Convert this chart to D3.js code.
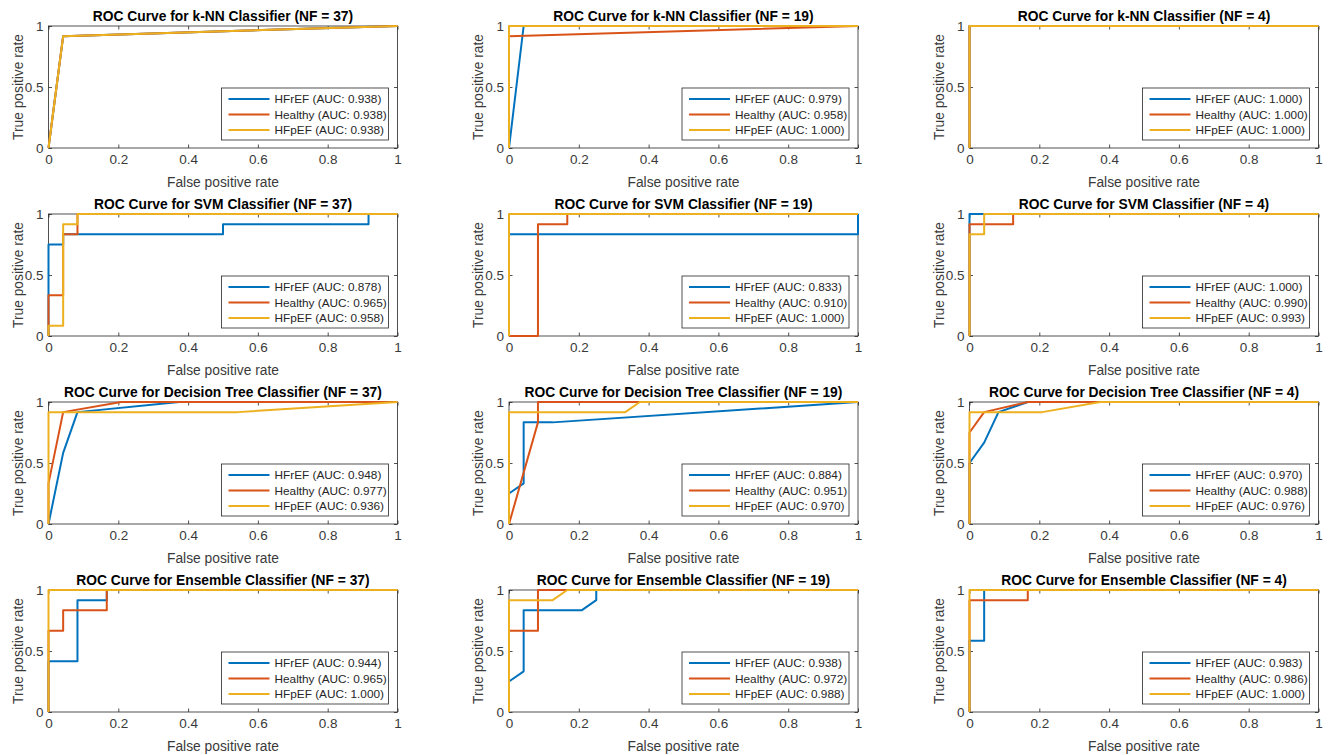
<!DOCTYPE html>
<html>
<head>
<meta charset="utf-8">
<script src="https://cdn.jsdelivr.net/npm/d3@7"></script>
<style>
  body { margin: 0; background: #fff; }
  svg { display: block; font-family: Arial, "Liberation Sans", Helvetica, sans-serif; }
  .tick text { fill: #3a3a3a; font-size: 13.5px; }
  .tick line { stroke: #262626; stroke-width: 0.8; }
</style>
</head>
<body>
<div id="chart"></div>
<script>
const classNames = ['HFrEF', 'Healthy', 'HFpEF'];
const classColors = ['#0072BD', '#D95319', '#EDB120'];
const classifierNames = ['k-NN', 'SVM', 'Decision Tree', 'Ensemble'];
const featureCounts = [37, 19, 4];
const xTicks = [0, 0.2, 0.4, 0.6, 0.8, 1];
const yTicks = [0, 0.5, 1];

// AUC per panel, order HFrEF, Healthy, HFpEF
const aucKnn = [[0.938, 0.938, 0.938], [0.979, 0.958, 1.000], [1.000, 1.000, 1.000]];
const aucSvm = [[0.878, 0.965, 0.958], [0.833, 0.910, 1.000], [1.000, 0.990, 0.993]];
const aucTree = [[0.948, 0.977, 0.936], [0.884, 0.951, 0.970], [0.970, 0.988, 0.976]];
const aucEnsemble = [[0.944, 0.965, 1.000], [0.938, 0.972, 0.988], [0.983, 0.986, 1.000]];

// ROC points [fpr, tpr], one list per class
const rocKnn37 = [
  [[0, 0], [0.042, 0.917], [1, 1]],
  [[0, 0], [0.042, 0.917], [1, 1]],
  [[0, 0], [0.042, 0.917], [1, 1]],
];
const rocKnn19 = [
  [[0, 0], [0.042, 1], [1, 1]],
  [[0, 0], [0, 0.917], [1, 1]],
  [[0, 0], [0, 1], [1, 1]],
];
const rocKnn4 = [
  [[0, 0], [0, 1], [1, 1]],
  [[0, 0], [0, 1], [1, 1]],
  [[0, 0], [0, 1], [1, 1]],
];
const rocSvm37 = [
  [[0, 0], [0, 0.75], [0.042, 0.75], [0.042, 0.833], [0.5, 0.833], [0.5, 0.917], [0.917, 0.917], [0.917, 1], [1, 1]],
  [[0, 0], [0, 0.333], [0.042, 0.333], [0.042, 0.833], [0.083, 0.833], [0.083, 1], [1, 1]],
  [[0, 0], [0, 0.083], [0.042, 0.083], [0.042, 0.917], [0.083, 0.917], [0.083, 1], [1, 1]],
];
const rocSvm19 = [
  [[0, 0], [0, 0.833], [1, 0.833], [1, 1]],
  [[0, 0], [0.083, 0], [0.083, 0.917], [0.167, 0.917], [0.167, 1], [1, 1]],
  [[0, 0], [0, 1], [1, 1]],
];
const rocSvm4 = [
  [[0, 0], [0, 1], [1, 1]],
  [[0, 0], [0, 0.917], [0.125, 0.917], [0.125, 1], [1, 1]],
  [[0, 0], [0, 0.833], [0.042, 0.833], [0.042, 1], [1, 1]],
];
const rocTree37 = [
  [[0, 0], [0.042, 0.583], [0.083, 0.917], [0.375, 1], [1, 1]],
  [[0, 0], [0, 0.333], [0.042, 0.917], [0.208, 1], [1, 1]],
  [[0, 0], [0, 0.917], [0.542, 0.917], [1, 1]],
];
const rocTree19 = [
  [[0, 0], [0, 0.25], [0.042, 0.333], [0.042, 0.833], [0.125, 0.833], [1, 1]],
  [[0, 0], [0.083, 0.833], [0.083, 1], [1, 1]],
  [[0, 0], [0, 0.917], [0.333, 0.917], [0.375, 1], [1, 1]],
];
const rocTree4 = [
  [[0, 0], [0, 0.5], [0.042, 0.667], [0.083, 0.917], [0.167, 1], [1, 1]],
  [[0, 0], [0, 0.75], [0.042, 0.917], [0.167, 1], [1, 1]],
  [[0, 0], [0, 0.917], [0.208, 0.917], [0.375, 1], [1, 1]],
];
const rocEnsemble37 = [
  [[0, 0], [0, 0.417], [0.083, 0.417], [0.083, 0.917], [0.167, 0.917], [0.167, 1], [1, 1]],
  [[0, 0], [0, 0.667], [0.042, 0.667], [0.042, 0.833], [0.167, 0.833], [0.167, 1], [1, 1]],
  [[0, 0], [0, 1], [1, 1]],
];
const rocEnsemble19 = [
  [[0, 0], [0, 0.25], [0.042, 0.333], [0.042, 0.833], [0.208, 0.833], [0.25, 0.917], [0.25, 1], [1, 1]],
  [[0, 0], [0, 0.667], [0.083, 0.667], [0.083, 1], [1, 1]],
  [[0, 0], [0, 0.917], [0.125, 0.917], [0.167, 1], [1, 1]],
];
const rocEnsemble4 = [
  [[0, 0], [0, 0.583], [0.042, 0.583], [0.042, 1], [1, 1]],
  [[0, 0], [0, 0.917], [0.167, 0.917], [0.167, 1], [1, 1]],
  [[0, 0], [0, 1], [1, 1]],
];

const rocGrid = [
  [rocKnn37, rocKnn19, rocKnn4],
  [rocSvm37, rocSvm19, rocSvm4],
  [rocTree37, rocTree19, rocTree4],
  [rocEnsemble37, rocEnsemble19, rocEnsemble4],
];
const aucGrid = [aucKnn, aucSvm, aucTree, aucEnsemble];

const width = 1333;
const height = 755;
const plotW = 349;
const plotH = 122;
const colLeft = [48.5, 509, 969.5];
const rowTop = [26, 214, 402, 590];

const svg = d3.select('#chart')
  .append('svg')
  .attr('width', width)
  .attr('height', height);

rocGrid.forEach((row, r) => {
  row.forEach((curves, c) => {
    const g = svg.append('g')
      .attr('transform', `translate(${colLeft[c]},${rowTop[r]})`);

    const x = d3.scaleLinear().domain([0, 1]).range([0, plotW]);
    const y = d3.scaleLinear().domain([0, 1]).range([plotH, 0]);

    // box
    g.append('rect')
      .attr('width', plotW)
      .attr('height', plotH)
      .attr('fill', 'none')
      .attr('stroke', '#262626')
      .attr('stroke-width', 0.8);

    // axes with inward ticks
    const xAxis = g.append('g')
      .attr('transform', `translate(0,${plotH})`)
      .call(d3.axisBottom(x).tickValues(xTicks).tickFormat(d3.format('~g'))
        .tickSizeInner(-3.5).tickSizeOuter(0).tickPadding(6));
    const yAxis = g.append('g')
      .call(d3.axisLeft(y).tickValues(yTicks).tickFormat(d3.format('~g'))
        .tickSizeInner(-3.5).tickSizeOuter(0).tickPadding(5));
    const xTop = g.append('g')
      .call(d3.axisTop(x).tickValues(xTicks).tickFormat('').tickSizeInner(-3.5).tickSizeOuter(0));
    const yRight = g.append('g')
      .attr('transform', `translate(${plotW},0)`)
      .call(d3.axisRight(y).tickValues(yTicks).tickFormat('').tickSizeInner(-3.5).tickSizeOuter(0));
    [xAxis, yAxis, xTop, yRight].forEach((a) => a.select('.domain').remove());

    // curves
    const line = d3.line().x((d) => x(d[0])).y((d) => y(d[1]));
    curves.forEach((pts, i) => {
      g.append('path')
        .datum(pts)
        .attr('d', line)
        .attr('fill', 'none')
        .attr('stroke', classColors[i])
        .attr('stroke-width', 2)
        .attr('stroke-linejoin', 'round');
    });

    // title
    g.append('text')
      .attr('x', plotW / 2)
      .attr('y', -5)
      .attr('text-anchor', 'middle')
      .attr('font-size', '13.8px')
      .attr('font-weight', 'bold')
      .attr('fill', '#000')
      .text(`ROC Curve for ${classifierNames[r]} Classifier (NF = ${featureCounts[c]})`);

    // axis labels
    g.append('text')
      .attr('x', plotW / 2)
      .attr('y', plotH + 39)
      .attr('text-anchor', 'middle')
      .attr('font-size', '13.8px')
      .attr('fill', '#3a3a3a')
      .text('False positive rate');

    g.append('text')
      .attr('transform', `translate(-26,${plotH / 2}) rotate(-90)`)
      .attr('text-anchor', 'middle')
      .attr('font-size', '13.8px')
      .attr('fill', '#3a3a3a')
      .text('True positive rate');

    // legend
    const legW = 167;
    const legH = 52;
    const leg = g.append('g')
      .attr('transform', `translate(${plotW - 9 - legW},${plotH - 8 - legH})`);
    leg.append('rect')
      .attr('width', legW)
      .attr('height', legH)
      .attr('fill', '#fff')
      .attr('stroke', '#262626')
      .attr('stroke-width', 0.8);
    classNames.forEach((name, i) => {
      const ly = 11 + i * 15.5;
      leg.append('line')
        .attr('x1', 7).attr('x2', 48)
        .attr('y1', ly).attr('y2', ly)
        .attr('stroke', classColors[i])
        .attr('stroke-width', 2);
      leg.append('text')
        .attr('x', 53)
        .attr('y', ly)
        .attr('dy', '0.35em')
        .attr('font-size', '11.8px')
        .attr('fill', '#262626')
        .text(`${name} (AUC: ${aucGrid[r][c][i].toFixed(3)})`);
    });
  });
});
</script>
</body>
</html>
